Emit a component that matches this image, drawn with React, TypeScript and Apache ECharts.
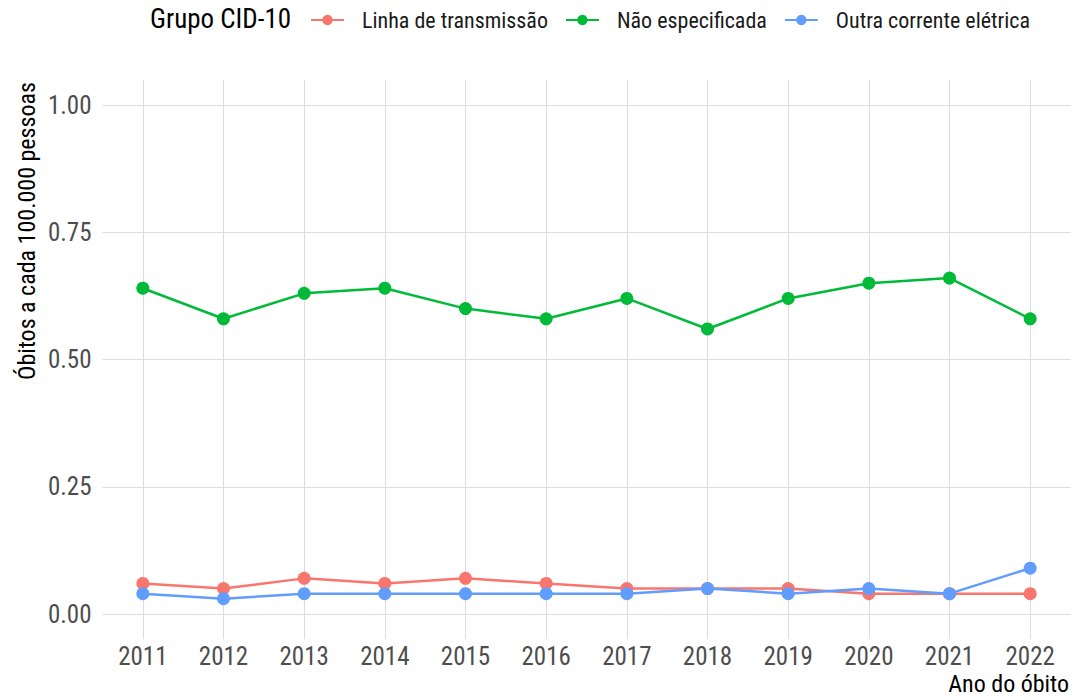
import React, { useEffect, useRef } from "react";
import * as echarts from "echarts";

const years = ["2011", "2012", "2013", "2014", "2015", "2016", "2017", "2018", "2019", "2020", "2021", "2022"];
const linhaTransmissao = [0.06, 0.05, 0.07, 0.06, 0.07, 0.06, 0.05, 0.05, 0.05, 0.04, 0.04, 0.04];
const naoEspecificada = [0.64, 0.58, 0.63, 0.64, 0.60, 0.58, 0.62, 0.56, 0.62, 0.65, 0.66, 0.58];
const outraCorrente = [0.04, 0.03, 0.04, 0.04, 0.04, 0.04, 0.04, 0.05, 0.04, 0.05, 0.04, 0.09];
const seriesNames = ["Linha de transmissão", "Não especificada", "Outra corrente elétrica"];
const seriesColors = ["#F8766D", "#00BA38", "#619CFF"];

const FONT = "'Roboto Condensed', 'Liberation Sans Narrow', 'DejaVu Sans Condensed', sans-serif";

export default function App() {
  const ref = useRef<HTMLDivElement>(null);
  useEffect(() => {
    document.body.style.margin = "0";
    if (!ref.current) return;
    const chart = echarts.init(ref.current, undefined, { renderer: "svg" });
    const values = [linhaTransmissao, naoEspecificada, outraCorrente];
    const L = 102.5;
    const R = 4.5;
    chart.setOption({
      animation: false,
      textStyle: { fontFamily: FONT },
      grid: [
        { left: L, right: R, top: 105, bottom: 86 },
        { left: L, right: R, top: 80, bottom: 61 },
      ],
      legend: {
        data: seriesNames,
        top: 4,
        left: 305,
        itemWidth: 33,
        itemHeight: 13,
        itemGap: 17,
        textStyle: { fontSize: 22, color: "#1a1a1a", fontFamily: FONT, padding: [0, 0, 0, 13] },
      },
      xAxis: [
        {
          type: "category",
          gridIndex: 0,
          data: years,
          boundaryGap: true,
          axisLine: { show: false },
          axisTick: { show: false },
          axisLabel: { show: false },
          splitLine: { show: false },
        },
        {
          type: "category",
          gridIndex: 1,
          data: years,
          boundaryGap: true,
          axisLine: { show: false },
          axisTick: { show: false },
          axisLabel: { show: true, fontSize: 25, color: "#4d4d4d", margin: 5, fontFamily: FONT },
          splitLine: { show: true, alignWithLabel: true, lineStyle: { color: "#dcdcdc", width: 1 } },
        },
      ],
      yAxis: [
        {
          type: "value",
          gridIndex: 0,
          min: 0,
          max: 1,
          interval: 0.25,
          axisLine: { show: false },
          axisTick: { show: false },
          axisLabel: {
            fontSize: 25,
            color: "#4d4d4d",
            margin: 11,
            fontFamily: FONT,
            formatter: (v: number) => v.toFixed(2),
          },
          splitLine: { show: true, lineStyle: { color: "#dcdcdc", width: 1 } },
        },
        {
          type: "value",
          gridIndex: 1,
          min: 0,
          max: 1,
          show: false,
          splitLine: { show: false },
        },
      ],
      graphic: [
        {
          type: "text",
          x: 150,
          y: 19,
          style: { text: "Grupo CID-10", fontSize: 27, fill: "#000", fontFamily: FONT, verticalAlign: "middle" },
        },
        {
          type: "text",
          x: 27,
          y: 82,
          rotation: Math.PI / 2,
          style: {
            text: "Óbitos a cada 100.000 pessoas",
            fontSize: 24,
            fill: "#000",
            fontFamily: FONT,
            align: "right",
            verticalAlign: "middle",
          },
        },
        {
          type: "text",
          x: 1069,
          y: 684,
          style: { text: "Ano do óbito", fontSize: 24, fill: "#000", fontFamily: FONT, align: "right", verticalAlign: "middle" },
        },
      ],
      series: seriesNames.map((name, i) => ({
        name,
        type: "line",
        xAxisIndex: 0,
        yAxisIndex: 0,
        data: values[i],
        symbol: "circle",
        symbolSize: 13,
        color: seriesColors[i],
        lineStyle: { width: 2.5, color: seriesColors[i] },
        itemStyle: { color: seriesColors[i] },
      })),
    });
    return () => chart.dispose();
  }, []);
  return <div ref={ref} style={{ width: 1075, height: 700 }} />;
}
